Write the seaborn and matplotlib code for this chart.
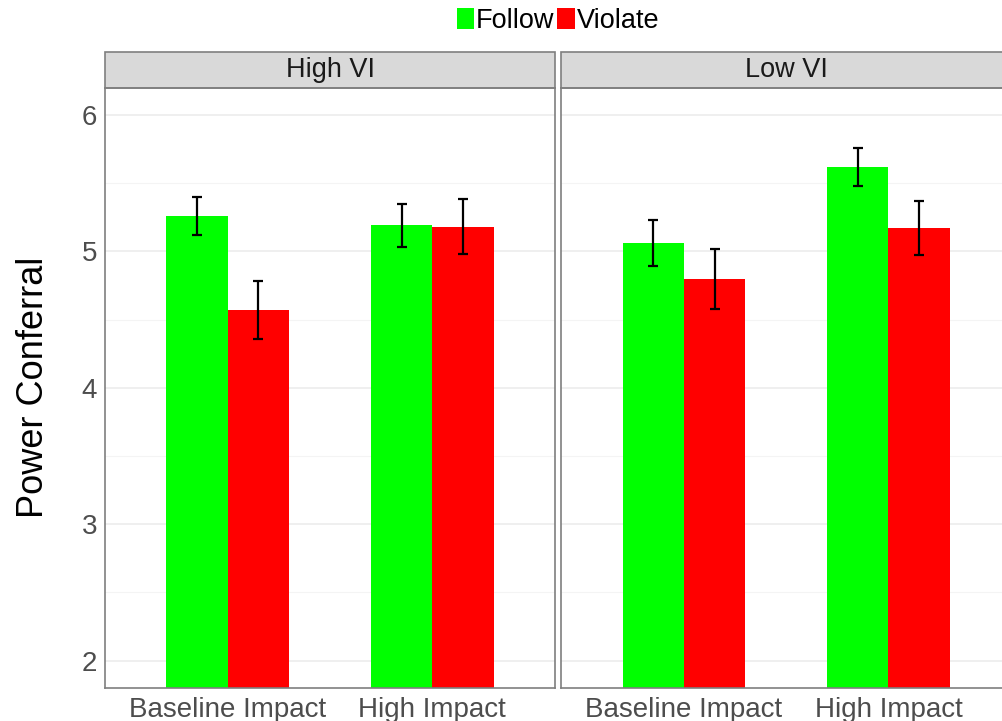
import matplotlib
matplotlib.use("Agg")
import matplotlib.pyplot as plt
from matplotlib.patches import Patch, Rectangle
import seaborn as sns
import pandas as pd

# ---- data ----
panels = ["High VI", "Low VI"]
impact = ["Baseline Impact", "High Impact"]
conditions = ["Follow", "Violate"]
follow_mean = {"High VI": [5.26, 5.19], "Low VI": [5.06, 5.62]}
violate_mean = {"High VI": [4.57, 5.18], "Low VI": [4.80, 5.17]}
follow_se = {"High VI": [0.14, 0.16], "Low VI": [0.17, 0.14]}
violate_se = {"High VI": [0.21, 0.20], "Low VI": [0.22, 0.20]}
colors = {"Follow": "#00FF00", "Violate": "#FF0000"}

rows = []
for p in panels:
    for i, imp in enumerate(impact):
        rows.append(dict(VI=p, Impact=imp, Cond="Follow", mean=follow_mean[p][i], se=follow_se[p][i]))
        rows.append(dict(VI=p, Impact=imp, Cond="Violate", mean=violate_mean[p][i], se=violate_se[p][i]))
df = pd.DataFrame(rows)

sns.set_theme(style="white")
plt.rcParams["font.family"] = ["Liberation Sans", "DejaVu Sans"]

W, H = 1003, 721
fig = plt.figure(figsize=(W / 100, H / 100), dpi=100)

def fx(px):
    return px / W

def fy(px):
    return 1 - px / H

top, bottom = 87.5, 688
pw = 450
lefts = [105, 561.2]
grid_col = "#EBEBEB"
border_col = "#7F7F7F"

for k, p in enumerate(panels):
    ax = fig.add_axes([fx(lefts[k]), fy(bottom), pw / W, (bottom - top) / H])
    sub = df[df.VI == p]
    sns.barplot(data=sub, x="Impact", y="mean", hue="Cond", order=impact,
                hue_order=conditions, palette=colors, width=0.6, errorbar=None,
                saturation=1, linewidth=0, legend=False, ax=ax, zorder=2)
    for c_idx, cond in enumerate(conditions):
        cont = ax.containers[c_idx]
        ses = sub[sub.Cond == cond].set_index("Impact").loc[impact, "se"].values
        for bar, se in zip(cont, ses):
            xc = bar.get_x() + bar.get_width() / 2
            ax.errorbar(xc, bar.get_height(), yerr=se, fmt="none", ecolor="black",
                        elinewidth=1.6, capsize=3.6, capthick=1.6, zorder=3)
    ax.set_xlim(-0.6, 1.6)
    ax.set_ylim(1.8, 6.2)
    ax.set_yticks([2, 3, 4, 5, 6])
    ax.set_yticks([2.5, 3.5, 4.5, 5.5], minor=True)
    ax.grid(True, axis="y", which="major", color=grid_col, linewidth=1.1, zorder=0)
    ax.grid(True, axis="y", which="minor", color="#F4F4F4", linewidth=0.8, zorder=0)
    ax.grid(False, axis="x")
    ax.set_axisbelow(True)
    for s in ax.spines.values():
        s.set_color(border_col)
        s.set_linewidth(1.2)
    ax.tick_params(axis="both", which="major", length=3.5, width=0.8, color=border_col,
                   labelsize=20, labelcolor="#4D4D4D", pad=2)
    ax.tick_params(axis="y", which="minor", length=0)
    ax.tick_params(axis="x", pad=3)
    ax.set_xlabel("")
    if k == 0:
        ax.set_ylabel("Power Conferral", fontsize=26, color="black")
        ax.yaxis.set_label_coords(-0.12, 0.5)
    else:
        ax.set_ylabel("")
        ax.set_yticklabels([])
    # facet strip
    strip_h = 35.5 / (bottom - top)
    ax.add_patch(Rectangle((0, 1), 1, strip_h, transform=ax.transAxes, clip_on=False,
                           facecolor="#D9D9D9", edgecolor=border_col, linewidth=1.2))
    ax.text(0.5, 1 + strip_h / 2, p, transform=ax.transAxes, ha="center", va="center",
            fontsize=19.5, color="#1A1A1A")

handles = [Patch(facecolor=colors[c], edgecolor="none", label=c) for c in conditions]
fig.legend(handles=handles, loc="center", bbox_to_anchor=(fx(558), fy(21)), ncol=2,
           frameon=False, fontsize=19.5, handlelength=0.65, handleheight=0.84,
           handletextpad=0.07, columnspacing=0.1, borderpad=0, borderaxespad=0,
           labelcolor="black")

fig.savefig("out.png", dpi=100)
